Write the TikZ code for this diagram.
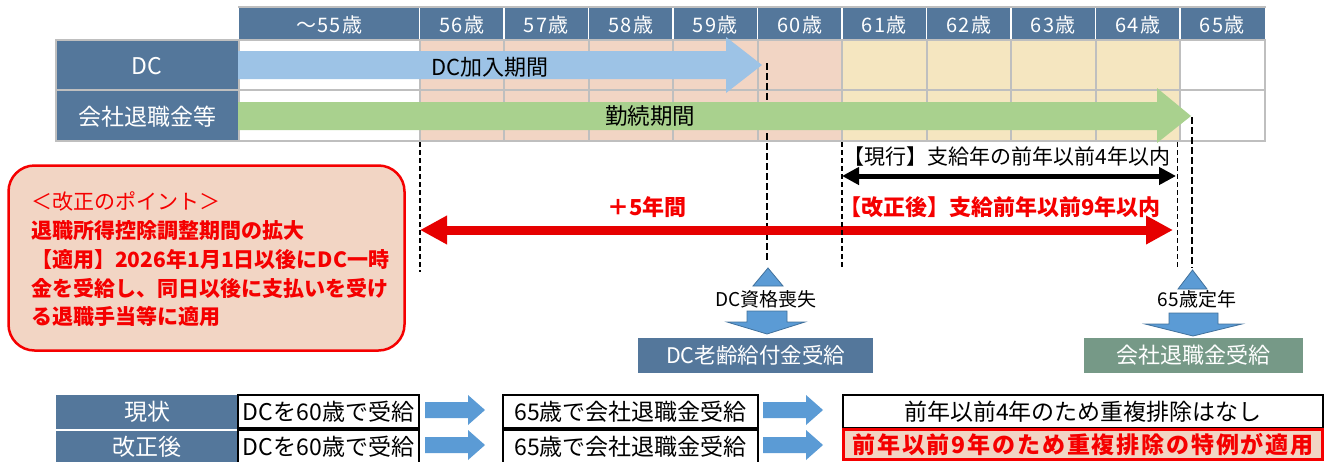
\documentclass[tikz,border=0pt]{standalone}
\usepackage{fontspec}
\setmainfont{Noto Sans CJK JP}
\usetikzlibrary{arrows.meta}
\definecolor{hdr}{RGB}{84,119,155}
\definecolor{gridc}{RGB}{191,191,191}
\definecolor{pinkc}{RGB}{242,213,196}
\definecolor{yelc}{RGB}{245,230,192}
\definecolor{dcblue}{RGB}{157,195,230}
\definecolor{grn}{RGB}{169,209,142}
\definecolor{redA}{RGB}{230,0,0}
\definecolor{redT}{RGB}{245,0,0}
\definecolor{arrb}{RGB}{91,155,213}
\definecolor{arrbd}{RGB}{65,113,156}
\definecolor{gbox}{RGB}{118,153,135}
\newcommand\myfs[1]{\fontsize{#1}{#1}\selectfont}
\begin{document}
\begin{tikzpicture}[x=1pt,y=-1pt,
  hdrtxt/.style={text=white,inner sep=0,font={\myfs{20}\addfontfeature{LetterSpace=6}}},
  lbl/.style={text=white,inner sep=0,font={\myfs{23}}},
  txt/.style={inner sep=0},
  thindash/.style={black,line width=1.3pt,dash pattern=on 5pt off 3pt},
  thickdash/.style={black,line width=2.3pt,dash pattern=on 7pt off 3pt},
  tbox/.style={draw=black,line width=2pt,fill=white,inner sep=0,font={\myfs{23}}},
  bluetri/.style={fill=arrb,draw=arrbd,line width=0.8pt,line join=miter},
  bluearr/.style={fill=arrb},
  outbox/.style={text=white,inner sep=0,minimum height=35pt,font={\myfs{22}}},
]
\useasboundingbox (0,0) rectangle (1327,461);

% ---------- header row ----------
\fill[hdr] (239,8) rectangle (1265,39.5);
\foreach \x in {419.5,504,588.5,673,757.5,842,926.5,1011,1095.5,1180}
  \draw[white,line width=1.6pt] (\x,8) -- (\x,39.5);
\draw[gridc,line width=2pt] (238,7) -- (1266,7);
\foreach \cx/\t [count=\i] in {329.25/～55歳,461.75/56歳,546.25/57歳,630.75/58歳,715.25/59歳,799.75/60歳,884.25/61歳,968.75/62歳,1053.25/63歳,1137.75/64歳,1222.25/65歳}
  \node[hdrtxt] (h\i) at (\cx,25) {\t};

% ---------- body cells ----------
\fill[white] (239,40) rectangle (419.5,141);
\fill[pinkc] (419.5,40) rectangle (842,141);
\fill[yelc] (842,40) rectangle (1180,141);
\fill[white] (1180,40) rectangle (1265,141);
\fill[hdr] (56,40) rectangle (239,141);
\foreach \x in {239,419.5,504,588.5,673,757.5,842,926.5,1011,1095.5,1180}
  \draw[gridc,line width=2pt] (\x,40) -- (\x,141);
\draw[gridc,line width=2pt] (56,40) rectangle (1265,141);
\draw[gridc,line width=2pt] (56,90) -- (1265,90);
\node[lbl] (dc) at (147,66) {DC};
\node[lbl] (co) at (147,117) {会社退職金等};

% DC arrow
\fill[dcblue] (238,51) -- (726,51) -- (726,37) -- (762,65) -- (726,93) -- (726,79) -- (238,79) -- cycle;
\node[txt,font={\myfs{22}}] (dcp) at (490,67) {DC加入期間};

% thick dashed line at 60
\coordinate (v2t) at (767,63);
\coordinate (v2b) at (767,262);
\draw[thickdash] (v2t) -- (v2b);

% green arrow
\fill[grn] (238,102) -- (1157,102) -- (1157,88) -- (1191,116) -- (1157,143) -- (1157,130) -- (238,130) -- cycle;
\node[txt,font={\myfs{22.5}}] (kin) at (650,116) {勤続期間};

% ---------- span arrows ----------
\coordinate (ra) at (420,230);
\coordinate (rb) at (1173,230);
\draw[redA,line width=9pt,{Triangle[length=27pt,width=27pt]}-{Triangle[length=27pt,width=27pt]}] (ra) -- (rb);
\coordinate (ba) at (842,176);
\coordinate (bb) at (1176,176);
\draw[black,line width=5pt,{Triangle[length=17pt,width=17pt]}-{Triangle[length=17pt,width=17pt]}] (ba) -- (bb);

% thin dashed lines
\coordinate (v1t) at (420,142);
\coordinate (v1b) at (420,272);
\coordinate (v3t) at (842,142);
\coordinate (v3b) at (842,268);
\coordinate (v4t) at (1177.5,142);
\coordinate (v4b) at (1177.5,268);
\coordinate (v5t) at (1192,117);
\coordinate (v5b) at (1192,268);
\draw[thindash] (v1t) -- (v1b);
\draw[thindash] (v3t) -- (v3b);
\draw[thindash] (v4t) -- (v4b);
\draw[thickdash] (v5t) -- (v5b);

\node[txt,font={\myfs{21}}] (cur) at (1007,157) {【現行】支給年の前年以前4年以内};
\node[txt,text=redT,font={\bfseries\myfs{22}}] (plus5) at (647,207) {＋5年間};
\node[txt,text=redT,font={\bfseries\myfs{22}}] (aft) at (1000,207) {【改正後】支給前年以前9年以内};

% ---------- events ----------
\draw[bluetri] (753,286) -- (783,286) -- (768,268) -- cycle;
\node[txt,font={\myfs{19}}] (dcl) at (766,299) {DC資格喪失};
\draw[bluetri] (747,311) -- (787,311) -- (787,322) -- (805,322) -- (767,334) -- (727,322) -- (747,322) -- cycle;
\node[outbox,fill=hdr,minimum width=235pt,font={\myfs{21.5}}] (dcbox) at (755.5,355.5) {DC老齢給付金受給};

\draw[bluetri] (1178,289) -- (1207,289) -- (1192.5,270) -- cycle;
\node[txt,font={\myfs{19}}] (ret) at (1197,299) {65歳定年};
\draw[bluetri] (1169,313) -- (1218,313) -- (1218,324) -- (1242,324) -- (1193,336) -- (1145,324) -- (1169,324) -- cycle;
\node[outbox,fill=gbox,minimum width=219pt] (cobox) at (1193.5,355.5) {会社退職金受給};

% ---------- point box ----------
\node[draw=redT,fill=pinkc,line width=2.5pt,rounded corners=26pt,minimum width=396pt,minimum height=185pt,inner sep=0] (pbox) at (206.5,258) {};
\node[txt,text=redT,align=left,anchor=west,font={\fontsize{21}{28.7}\selectfont}] (ptxt) at (31,259.5)
 {＜改正のポイント＞\\
  {\bfseries 退職所得控除調整期間の拡大}\\
  {\bfseries 【適用】2026年1月1日以後にDC一時}\\
  {\bfseries 金を受給し、同日以後に支払いを受け}\\
  {\bfseries る退職手当等に適用}};

% ---------- bottom table ----------
\node[lbl,fill=hdr,minimum width=182pt,minimum height=33.5pt] (l1) at (147,411.75) {現状};
\node[lbl,fill=hdr,minimum width=182pt,minimum height=33.5pt] (l2) at (147,447.25) {改正後};
\node[tbox,minimum width=181pt,minimum height=33pt] (b11) at (328.5,411.5) {DCを60歳で受給};
\node[tbox,minimum width=181pt,minimum height=33pt] (b21) at (328.5,446.5) {DCを60歳で受給};
\node[tbox,minimum width=255pt,minimum height=33pt] (b12) at (630.5,411.5) {65歳で会社退職金受給};
\node[tbox,minimum width=255pt,minimum height=33pt] (b22) at (630.5,446.5) {65歳で会社退職金受給};
\node[tbox,minimum width=480pt,minimum height=33pt] (b13) at (1083,411.5) {前年以前4年のため重複排除はなし};
\node[draw=redT,fill=pinkc,line width=3pt,minimum width=479pt,minimum height=30pt,inner sep=0,text=redT,font={\bfseries\myfs{23}\addfontfeature{LetterSpace=8}}] (b23) at (1083,444.5) {前年以前9年のため重複排除の特例が適用};

\fill[bluearr] (425,402) -- (468,402) -- (468,395) -- (485,410) -- (468,425) -- (468,418) -- (425,418) -- cycle;
\fill[bluearr] (425,437) -- (468,437) -- (468,430) -- (485,445) -- (468,460) -- (468,453) -- (425,453) -- cycle;
\fill[bluearr] (763,402) -- (806,402) -- (806,395) -- (823,410) -- (806,425) -- (806,418) -- (763,418) -- cycle;
\fill[bluearr] (763,437) -- (806,437) -- (806,430) -- (823,445) -- (806,460) -- (806,453) -- (763,453) -- cycle;
\end{tikzpicture}
\end{document}
